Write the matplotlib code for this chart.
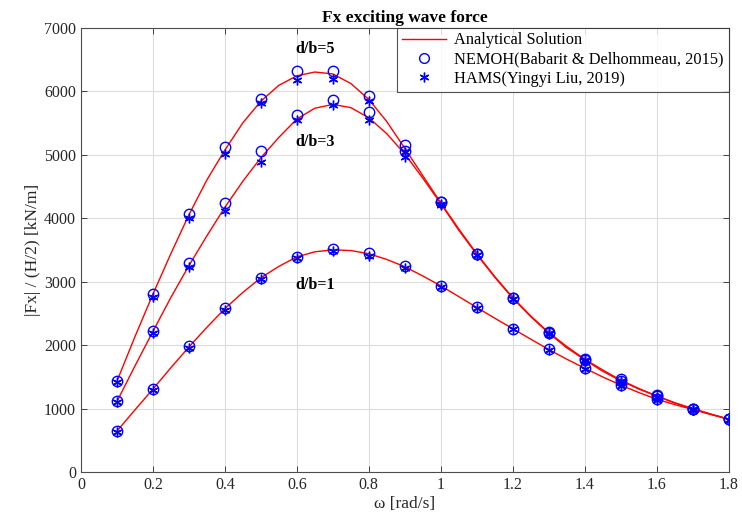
import matplotlib

matplotlib.use("Agg")
import matplotlib.pyplot as plt
import numpy as np

plt.rcParams["font.family"] = ["Liberation Serif", "DejaVu Serif"]

# Analytical solution, sampled every 0.05 rad/s
omega_fine = np.round(np.arange(0.10, 1.8001, 0.05), 2)
analytic_db5 = [1430, 2130, 2800, 3440, 4050, 4600, 5070, 5500, 5840, 6090,
                6240, 6300, 6270, 6120, 5870, 5520, 5100, 4670, 4240, 3830,
                3440, 3080, 2750, 2460, 2200, 1980, 1780, 1610, 1450, 1320,
                1200, 1095, 1000, 915, 835]
analytic_db3 = [1110, 1670, 2215, 2750, 3250, 3720, 4170, 4580, 4950, 5270,
                5560, 5730, 5790, 5740, 5580, 5330, 5010, 4630, 4230, 3810,
                3430, 3070, 2740, 2450, 2190, 1960, 1770, 1590, 1440, 1310,
                1200, 1090, 1000, 915, 835]
analytic_db1 = [646, 980, 1307, 1645, 1970, 2280, 2575, 2830, 3060, 3240,
                3390, 3470, 3500, 3490, 3440, 3350, 3235, 3090, 2935, 2765,
                2595, 2425, 2260, 2095, 1932, 1780, 1638, 1500, 1372, 1255,
                1150, 1065, 987, 910, 835]

# Panel-code results at 0.1 rad/s steps
omega = np.round(np.arange(0.1, 1.8001, 0.1), 1)
nemoh_db5 = [1440, 2810, 4070, 5120, 5880, 6310, 6320, 5920, 5150, 4260,
             3440, 2750, 2200, 1790, 1460, 1210, 1000, 835]
hams_db5 = [1420, 2760, 4000, 5010, 5810, 6170, 6190, 5850, 5040, 4220,
            3420, 2730, 2190, 1770, 1440, 1190, 990, 830]
nemoh_db3 = [1120, 2220, 3290, 4240, 5055, 5630, 5860, 5665, 5060, 4250,
             3440, 2740, 2190, 1770, 1440, 1200, 1000, 835]
hams_db3 = [1100, 2190, 3230, 4120, 4890, 5550, 5780, 5550, 4970, 4210,
            3420, 2720, 2170, 1750, 1420, 1180, 985, 825]
nemoh_db1 = [650, 1310, 1980, 2580, 3065, 3395, 3510, 3445, 3240, 2935,
             2595, 2262, 1935, 1640, 1375, 1155, 990, 835]
hams_db1 = [630, 1290, 1950, 2550, 3040, 3370, 3480, 3400, 3210, 2920,
            2580, 2250, 1920, 1625, 1360, 1140, 980, 825]

case_labels = ["d/b=5", "d/b=3", "d/b=1"]
label_pos = [(0.65, 6670), (0.65, 5200), (0.65, 2945)]

fig = plt.figure(figsize=(7.42, 5.3), dpi=100)
ax = fig.add_axes([0.109, 0.109, 0.873, 0.839])

asterisk = (6, 2, 0)
for a, n, h in [(analytic_db5, nemoh_db5, hams_db5),
                (analytic_db3, nemoh_db3, hams_db3),
                (analytic_db1, nemoh_db1, hams_db1)]:
    ax.plot(omega_fine, a, color="red", lw=1.0, zorder=2)
    ax.plot(omega, n, ls="none", marker="o", ms=7.5, mfc="none", mec="blue",
            mew=1.0, zorder=3)
    ax.plot(omega, h, ls="none", marker=asterisk, ms=7, mec="blue",
            mew=1.0, zorder=3)

for txt, (xp, yp) in zip(case_labels, label_pos):
    ax.text(xp, yp, txt, ha="center", va="center", fontsize=11.5,
            fontweight="bold")

# legend proxies
h_line, = ax.plot([], [], color="red", lw=1.0, label="Analytical Solution")
h_circ, = ax.plot([], [], ls="none", marker="o", ms=7, mfc="none", mec="blue",
                  label="NEMOH(Babarit & Delhommeau, 2015)")
h_star, = ax.plot([], [], ls="none", marker=asterisk, ms=7, mec="blue",
                  label="HAMS(Yingyi Liu, 2019)")
leg = ax.legend(handles=[h_line, h_circ, h_star], loc="upper right",
                fontsize=11.8, frameon=True, fancybox=False,
                borderaxespad=0, handlelength=2.7, handletextpad=0.5,
                labelspacing=0.2, borderpad=0.3)
leg.get_frame().set_edgecolor("#262626")
leg.get_frame().set_linewidth(0.8)

ax.set_xlim(0, 1.8)
ax.set_ylim(0, 7000)
ax.set_xticks(np.arange(0, 1.81, 0.2))
ax.set_xticklabels(["0", "0.2", "0.4", "0.6", "0.8", "1", "1.2", "1.4",
                    "1.6", "1.8"])
ax.set_yticks(np.arange(0, 7001, 1000))
ax.tick_params(direction="in", top=True, right=True, labelsize=11.5,
               length=4, width=0.6, colors="#262626")
ax.grid(True, color="#dcdcdc", lw=0.8)
ax.set_axisbelow(True)
for s in ax.spines.values():
    s.set_color("#4d4d4d")
    s.set_linewidth(0.8)

ax.set_xlabel("ω [rad/s]", fontsize=12.5, color="#262626", labelpad=2)
ax.set_ylabel("|Fx| / (H/2) [kN/m]", fontsize=12.5, color="#262626",
              labelpad=2)
ax.set_title("Fx exciting wave force", fontsize=12.5, fontweight="bold",
             pad=4)

fig.savefig("out.png", dpi=100)
